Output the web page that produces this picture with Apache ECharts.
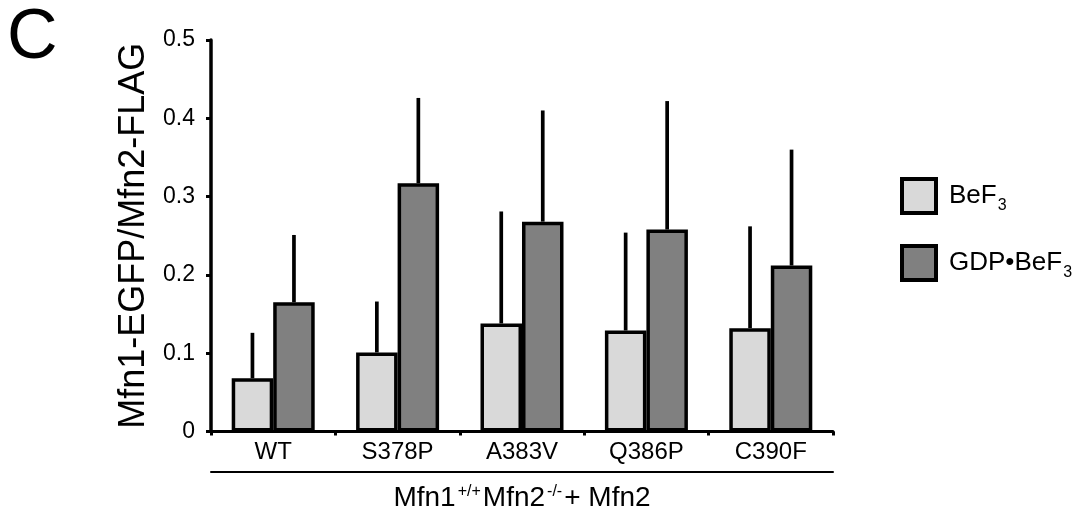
<!DOCTYPE html>
<html>
<head>
<meta charset="utf-8">
<script src="https://cdn.jsdelivr.net/npm/echarts@6/dist/echarts.min.js"></script>
<style>html,body{margin:0;padding:0;background:#fff;}#c{width:1090px;height:512px;}</style>
</head>
<body>
<div id="c"></div>
<script>
const categories = ['WT', 'S378P', 'A383V', 'Q386P', 'C390F'];
const befValues = [0.068, 0.101, 0.138, 0.129, 0.132];
const befErrors = [0.058, 0.065, 0.143, 0.125, 0.130];
const gdpValues = [0.165, 0.317, 0.268, 0.258, 0.212];
const gdpErrors = [0.086, 0.109, 0.142, 0.164, 0.148];
const yTicks = [0, 0.1, 0.2, 0.3, 0.4, 0.5];

const FONT = '"Liberation Sans", Arial, Helvetica, sans-serif';
const BAR_W = 41.5;

const chart = echarts.init(document.getElementById('c'), null, {renderer: 'canvas'});

function errSeries(name, values, errors, side) {
  return {
    type: 'custom',
    name: name + '_err',
    z: 5,
    silent: true,
    data: values.map((v, i) => [i, v, v + errors[i]]),
    renderItem: function (params, api) {
      const base = api.coord([api.value(0), api.value(1)]);
      const top = api.coord([api.value(0), api.value(2)]);
      const x = base[0] + side * BAR_W / 2;
      return {
        type: 'line',
        shape: {x1: x, y1: base[1], x2: x, y2: top[1]},
        style: {stroke: '#000', lineWidth: 3.7}
      };
    }
  };
}

const option = {
  animation: false,
  backgroundColor: '#fff',
  textStyle: {fontFamily: FONT, color: '#000'},
  grid: {left: 211, right: 257, top: 40, bottom: 80.5, containLabel: false, outerBoundsMode: 'none'},
  legend: {
    orient: 'vertical',
    left: 895,
    top: 172,
    itemWidth: 34,
    itemHeight: 34,
    itemGap: 26,
    icon: 'rect',
    data: [
      {name: 'BeF3', itemStyle: {color: '#d9d9d9', borderColor: '#000', borderWidth: 4}},
      {name: 'GDP•BeF3', itemStyle: {color: '#808080', borderColor: '#000', borderWidth: 4}}
    ],
    formatter: function (n) {
      return n === 'BeF3' ? '{a|BeF}{s|3}' : '{a|GDP•BeF}{s|3}';
    },
    textStyle: {
      fontFamily: FONT,
      color: '#000',
      padding: [0, 0, 0, 8],
      rich: {
        a: {fontFamily: FONT, fontSize: 26, color: '#000', lineHeight: 44, verticalAlign: 'middle'},
        s: {fontFamily: FONT, fontSize: 16, color: '#000', lineHeight: 16, verticalAlign: 'bottom', padding: [0, 0, 4, 1]}
      }
    }
  },
  xAxis: [
    {
      type: 'category',
      data: categories,
      axisLine: {show: true, lineStyle: {color: '#000', width: 3}},
      axisTick: {show: true, length: 4, lineStyle: {color: '#000', width: 3}},
      axisLabel: {fontFamily: FONT, fontSize: 24, color: '#000', margin: 9}
    },
    {
      type: 'category',
      data: categories,
      position: 'bottom',
      offset: 40,
      axisLine: {show: true, lineStyle: {color: '#000', width: 2}},
      axisTick: {show: false},
      axisLabel: {show: false},
      name: '{a|Mfn1}{s|+/+}{a|Mfn2}{s|-/-}{a|+ Mfn2}',
      nameLocation: 'middle',
      nameGap: 12,
      nameTextStyle: {
        rich: {
          a: {fontFamily: FONT, fontSize: 28, color: '#000', lineHeight: 30, verticalAlign: 'middle'},
          s: {fontFamily: FONT, fontSize: 16, color: '#000', lineHeight: 16, verticalAlign: 'top', padding: [0, 2, 0, 2]}
        }
      }
    }
  ],
  yAxis: {
    type: 'value',
    min: 0,
    max: 0.5,
    interval: 0.1,
    axisLine: {show: true, lineStyle: {color: '#000', width: 3.5}},
    axisTick: {show: true, length: 5, lineStyle: {color: '#000', width: 3}},
    splitLine: {show: false},
    axisLabel: {
      fontFamily: FONT, fontSize: 23, color: '#000', margin: 16,
      formatter: function (v) {
        const t = yTicks.find(x => Math.abs(x - v) < 1e-9);
        return t === 0 ? '0' : (t !== undefined ? t.toFixed(1) : '');
      }
    },
    name: 'Mfn1-EGFP/Mfn2-FLAG',
    nameLocation: 'middle',
    nameGap: 56,
    nameTextStyle: {fontFamily: FONT, fontSize: 36, color: '#000'}
  },
  graphic: [
    {type: 'text', left: 7, top: 4, style: {text: 'C', fontFamily: FONT, fontSize: 70, fill: '#000'}}
  ],
  series: [
    {
      name: 'BeF3',
      type: 'bar',
      data: befValues,
      barWidth: BAR_W,
      barGap: '0%',
      itemStyle: {color: '#d9d9d9', borderColor: '#000', borderWidth: 3.5}
    },
    {
      name: 'GDP•BeF3',
      type: 'bar',
      data: gdpValues,
      barWidth: BAR_W,
      barGap: '0%',
      itemStyle: {color: '#808080', borderColor: '#000', borderWidth: 3.5}
    },
    errSeries('BeF3', befValues, befErrors, -1),
    errSeries('GDP•BeF3', gdpValues, gdpErrors, 1)
  ]
};
chart.setOption(option);
</script>
</body>
</html>
